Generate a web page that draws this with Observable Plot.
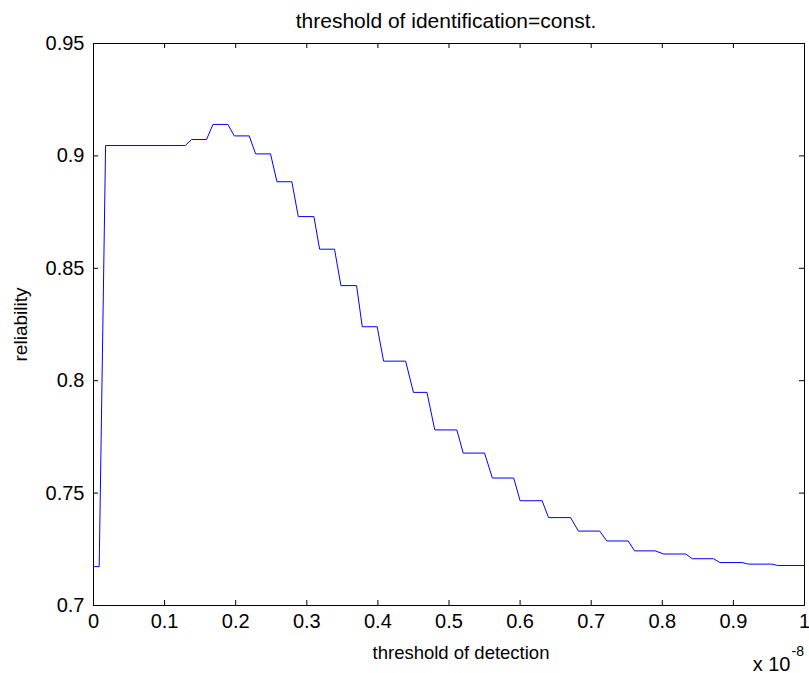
<!DOCTYPE html>
<html><head><meta charset="utf-8">
<script src="https://cdn.jsdelivr.net/npm/d3@7"></script>
<script src="https://cdn.jsdelivr.net/npm/@observablehq/plot@0.6"></script>
<style>body{margin:0;background:#fff} svg{display:block}</style>
</head><body><div id="chart"></div>
<script>
// Corner points of the plotted polyline (x in units of 1e-8)
const xCorners = [0, 0.008, 0.017, 0.129, 0.138, 0.159, 0.168, 0.189, 0.198, 0.219, 0.228, 0.249, 0.258, 0.279, 0.288, 0.310, 0.318, 0.339, 0.348, 0.370, 0.378, 0.399, 0.408, 0.439, 0.450, 0.469, 0.480, 0.511, 0.520, 0.550, 0.561, 0.591, 0.600, 0.631, 0.640, 0.671, 0.682, 0.712, 0.722, 0.752, 0.761, 0.790, 0.802, 0.833, 0.842, 0.872, 0.881, 0.912, 0.921, 0.954, 0.962, 1.0];
const yCorners = [0.7173, 0.7173, 0.9046, 0.9046, 0.9073, 0.9073, 0.9140, 0.9140, 0.9089, 0.9089, 0.9009, 0.9009, 0.8885, 0.8885, 0.8730, 0.8730, 0.8585, 0.8585, 0.8423, 0.8423, 0.8240, 0.8240, 0.8087, 0.8087, 0.7948, 0.7948, 0.7781, 0.7781, 0.7678, 0.7678, 0.7567, 0.7567, 0.7466, 0.7466, 0.7391, 0.7391, 0.7331, 0.7331, 0.7287, 0.7287, 0.7243, 0.7243, 0.7229, 0.7229, 0.7208, 0.7208, 0.7191, 0.7191, 0.7184, 0.7184, 0.7178, 0.7178];
const xTicks = [0, 0.1, 0.2, 0.3, 0.4, 0.5, 0.6, 0.7, 0.8, 0.9, 1];
const xTickLabels = ["0", "0.1", "0.2", "0.3", "0.4", "0.5", "0.6", "0.7", "0.8", "0.9", "1"];
const yTicks = [0.7, 0.75, 0.8, 0.85, 0.9, 0.95];
const yTickLabels = ["0.7", "0.75", "0.8", "0.85", "0.9", "0.95"];
const titleText = "threshold of identification=const.";
const xLabelText = "threshold of detection";
const yLabelText = "reliability";
const xMultiplier = "x 10";
const xExponent = "-8";

const W = 809, H = 673, mL = 93, mR = 5, mT = 43, mB = 68;
const pw = W - mL - mR, ph = H - mT - mB;
const tickLen = 5;
const pts = xCorners.map((x, i) => ({x, y: yCorners[i]}));
const font = "Arial, 'Liberation Sans', Helvetica, sans-serif";

const chart = Plot.plot({
  width: W, height: H,
  marginLeft: mL, marginRight: mR, marginTop: mT, marginBottom: mB,
  style: {fontFamily: font, background: "#fff", color: "#000", overflow: "visible"},
  x: {domain: [0, 1], axis: null},
  y: {domain: [0.7, 0.95], axis: null},
  marks: [
    Plot.line(pts, {x: "x", y: "y", stroke: "#0000ff", strokeWidth: 1}),
    Plot.ruleX(xTicks, {x: d => d, insetTop: ph - tickLen, stroke: "#000"}),
    Plot.ruleX(xTicks, {x: d => d, insetBottom: ph - tickLen, stroke: "#000"}),
    Plot.ruleY(yTicks, {y: d => d, insetRight: pw - tickLen, stroke: "#000"}),
    Plot.ruleY(yTicks, {y: d => d, insetLeft: pw - tickLen, stroke: "#000"}),
    Plot.frame({stroke: "#000", strokeWidth: 1}),
    Plot.text(xTicks, {x: d => d, text: (d, i) => xTickLabels[i], frameAnchor: "bottom", textAnchor: "middle", lineAnchor: "top", dy: 8, fontSize: 20, fill: "#000"}),
    Plot.text(yTicks, {y: d => d, text: (d, i) => yTickLabels[i], frameAnchor: "left", textAnchor: "end", dx: -9, fontSize: 20, fill: "#000"}),
    Plot.text([titleText], {text: d => d, frameAnchor: "top", textAnchor: "middle", lineAnchor: "bottom", dy: -16, dx: -3, fontSize: 21, fill: "#000"}),
    Plot.text([xLabelText], {text: d => d, frameAnchor: "bottom", textAnchor: "middle", lineAnchor: "bottom", dy: 53, dx: 12, fontSize: 18.5, fill: "#000"}),
    Plot.text([yLabelText], {text: d => d, frameAnchor: "left", textAnchor: "middle", rotate: -90, lineAnchor: "middle", dx: -73, fontSize: 19, fill: "#000"}),
    Plot.text([xMultiplier], {text: d => d, frameAnchor: "bottom-right", textAnchor: "end", lineAnchor: "bottom", dx: -14, dy: 65, fontSize: 20, fill: "#000"}),
    Plot.text([xExponent], {text: d => d, frameAnchor: "bottom-right", textAnchor: "start", lineAnchor: "bottom", dx: -13, dy: 50, fontSize: 14, fill: "#000"})
  ]
});
document.getElementById("chart").appendChild(chart);
</script>
</body></html>
